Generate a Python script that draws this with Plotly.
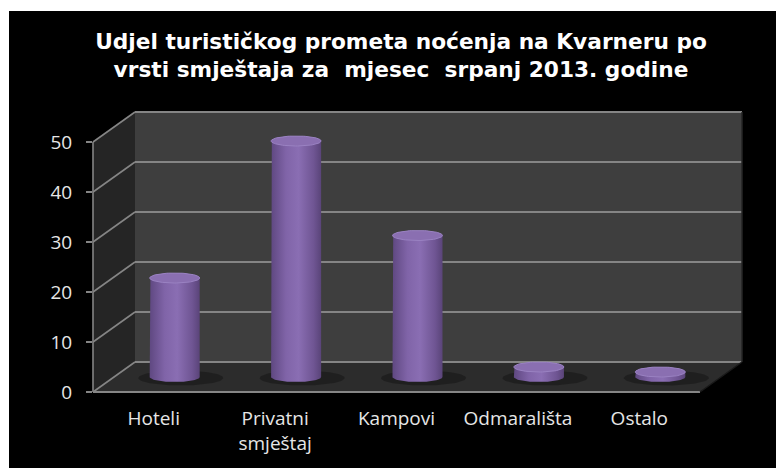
import numpy as np
import plotly.graph_objects as go

# ---------------- data ----------------
categories = ["Hoteli", "Privatni<br>smještaj", "Kampovi", "Odmarališta", "Ostalo"]
values = [19.8, 47.2, 28.3, 2.0, 1.0]
y_ticks = [0, 10, 20, 30, 40, 50]
title_text = ("Udjel turističkog prometa noćenja na Kvarneru po<br>"
              "vrsti smještaja za \u00a0mjesec \u00a0srpanj 2013. godine")

# ---------------- geometry / style ----------------
W, H = 776, 460            # page body has an 8px margin
ML, MR, MT, MB = 85, 42, 104, 76
PW, PH = W - ML - MR, H - MT - MB

FRONT_X = [-0.5, 4.846]      # label (front) category scale
BAR_X = [-0.673, 4.673]      # bars sit at mid depth
FRONT_Y = [0, 56]
BAR_Y = [-3, 53]
BACK_Y = [-6, 50]

def py(v, rng):
    return (v - rng[0]) / (rng[1] - rng[0])

DX = 42 / PW   # depth offset in paper units
GRID = "#858585"

fig = go.Figure()

# invisible anchor trace so the front (label) axes are drawn
fig.add_trace(go.Scatter(x=list(range(len(categories))), y=[0] * len(categories),
                         mode="markers", marker=dict(opacity=0), hoverinfo="skip"))

# cylinders
half_w = 0.206
ry = 1.0
t_up = np.linspace(np.pi, 0, 40)
t_dn = np.linspace(0, -np.pi, 40)
t_full = np.linspace(0, 2 * np.pi, 80)
for i, v in enumerate(values):
    c = i
    fig.add_trace(go.Scatter(
        x=c + 0.05 + half_w * 1.7 * np.cos(t_full),
        y=-0.2 + 1.5 * np.sin(t_full),
        xaxis="x2", yaxis="y2", mode="lines", line=dict(width=0),
        fill="toself", fillcolor="rgba(22,22,22,0.55)", hoverinfo="skip"))
    bx = np.concatenate([[c - half_w, c - half_w], c + half_w * np.cos(t_up),
                         [c + half_w], c + half_w * np.cos(t_dn)])
    by = np.concatenate([[0, v], v + ry * np.sin(t_up), [0], ry * np.sin(t_dn)])
    fig.add_trace(go.Scatter(
        x=bx, y=by, xaxis="x2", yaxis="y2", mode="lines", line=dict(width=0),
        fill="toself",
        fillgradient=dict(type="horizontal",
                          colorscale=[[0, "#5f4881"], [0.3, "#8064a8"],
                                      [0.55, "#8a6eb3"], [0.85, "#6f5593"],
                                      [1, "#5a4479"]]),
        hoverinfo="skip"))
    fig.add_trace(go.Scatter(
        x=c + half_w * np.cos(t_full), y=v + ry * np.sin(t_full),
        xaxis="x2", yaxis="y2", mode="lines",
        line=dict(width=1, color="#9a82c2"),
        fill="toself", fillcolor="#8a6fb1", hoverinfo="skip"))

shapes = []
shapes.append(dict(type="rect", xref="paper", yref="paper", layer="below",
                   x0=(1 - ML) / PW, x1=(W - ML) / PW + 0.01,
                   y0=-(MB / PH) - 0.01, y1=(H - 3 - MB) / PH,
                   fillcolor="black", line=dict(width=0)))
yb0, yb50 = py(0, BACK_Y), py(50, BACK_Y)
yf50 = py(50, FRONT_Y)
shapes.append(dict(type="path", xref="paper", yref="paper", layer="below",
                   path=f"M 0 0 L 0 {yf50} L {DX} {yb50} L {DX} {yb0} Z",
                   fillcolor="#252525", line=dict(width=0)))
shapes.append(dict(type="rect", xref="paper", yref="paper", layer="below",
                   x0=DX, x1=1, y0=yb0, y1=yb50,
                   fillcolor="#3e3e3e", line=dict(width=0)))
shapes.append(dict(type="path", xref="paper", yref="paper", layer="below",
                   path=f"M 0 0 L {DX} {yb0} L 1 {yb0} L {1 - DX} 0 Z",
                   fillcolor="#2c2c2c", line=dict(width=0)))
for v in y_ticks:
    shapes.append(dict(type="line", xref="paper", yref="paper", layer="below",
                       x0=DX, x1=1, y0=py(v, BACK_Y), y1=py(v, BACK_Y),
                       line=dict(color=GRID, width=2)))
    shapes.append(dict(type="line", xref="paper", yref="paper", layer="below",
                       x0=0, x1=DX, y0=py(v, FRONT_Y), y1=py(v, BACK_Y),
                       line=dict(color=GRID, width=1.6)))
shapes.append(dict(type="line", xref="paper", yref="paper", layer="below",
                   x0=0, x1=0, y0=0, y1=yf50, line=dict(color=GRID, width=1.6)))
shapes.append(dict(type="line", xref="paper", yref="paper", layer="below",
                   x0=0, x1=1 - DX, y0=0, y1=0, line=dict(color=GRID, width=2)))
shapes.append(dict(type="line", xref="paper", yref="paper", layer="below",
                   x0=1 - DX, x1=1, y0=0, y1=yb0, line=dict(color="#1a1a1a", width=1.5)))
shapes.append(dict(type="line", xref="paper", yref="paper", layer="below",
                   x0=1, x1=1, y0=yb0, y1=yb50, line=dict(color="#262626", width=1.5)))

tick_font = dict(family="Open Sans", size=19, color="#e6e6e6")

fig.update_layout(
    width=W, height=H, autosize=False,
    margin=dict(l=ML, r=MR, t=MT, b=MB, pad=0),
    paper_bgcolor="white", plot_bgcolor="rgba(0,0,0,0)",
    showlegend=False, shapes=shapes,
    title=dict(text=title_text, xref="container", yref="container",
               x=393 / W, xanchor="center", y=1 - 41 / H, yanchor="top",
               font=dict(family="DejaVu Sans", size=21.7, color="white", weight="bold")),
    xaxis=dict(range=FRONT_X, tickmode="array", tickvals=list(range(len(categories))),
               ticktext=categories, showgrid=False, zeroline=False, showline=False,
               ticks="", tickfont=tick_font, ticklabelstandoff=13, fixedrange=True),
    yaxis=dict(range=FRONT_Y, tickmode="array", tickvals=y_ticks,
               showgrid=False, zeroline=False, showline=False,
               ticks="outside", ticklen=6, tickwidth=1.6, tickcolor=GRID,
               tickfont=tick_font, ticklabelstandoff=10, fixedrange=True),
    xaxis2=dict(range=BAR_X, overlaying="x", visible=False, fixedrange=True),
    yaxis2=dict(range=BAR_Y, overlaying="y", visible=False, fixedrange=True),
)

fig.write_html("out.html")
